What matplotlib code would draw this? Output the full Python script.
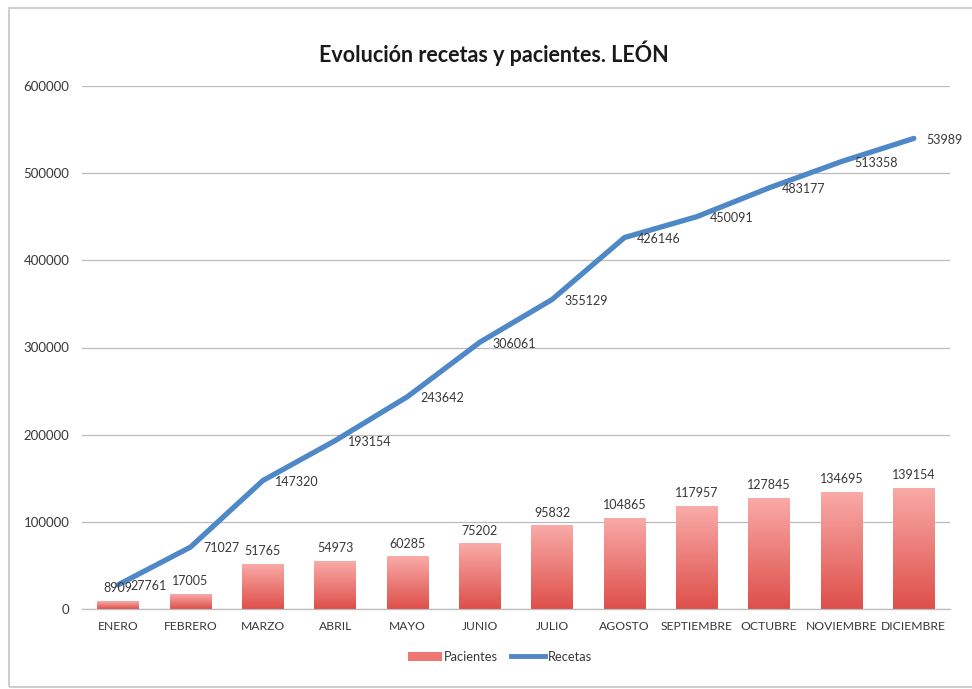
import matplotlib
matplotlib.use("Agg")
import matplotlib.pyplot as plt
import numpy as np
from matplotlib.patches import Rectangle, Patch
from matplotlib.lines import Line2D
from matplotlib.colors import LinearSegmentedColormap

plt.rcParams['font.family'] = ['Lato', 'DejaVu Sans']

meses = ["ENERO", "FEBRERO", "MARZO", "ABRIL", "MAYO", "JUNIO", "JULIO",
         "AGOSTO", "SEPTIEMBRE", "OCTUBRE", "NOVIEMBRE", "DICIEMBRE"]
pacientes = [8909, 17005, 51765, 54973, 60285, 75202, 95832,
             104865, 117957, 127845, 134695, 139154]
recetas = [27761, 71027, 147320, 193154, 243642, 306061, 355129,
           426146, 450091, 483177, 513358, 539890]
recetas_etiquetas = ["27761", "71027", "147320", "193154", "243642", "306061",
                     "355129", "426146", "450091", "483177", "513358", "53989"]
yticks = [0, 100000, 200000, 300000, 400000, 500000, 600000]

fig = plt.figure(figsize=(9.72, 6.89), dpi=100)
fig.patch.set_facecolor('white')

# screenshot frame
fig.patches.append(Rectangle((9/972, 2/689), 1.0, 679/689, transform=fig.transFigure,
                             fill=False, edgecolor='#cfcfcf', linewidth=1.5))

ax = fig.add_axes([82/972, 1-609/689, 868/972, (609-86)/689])
x = np.arange(len(meses))
bars = ax.bar(x, pacientes, width=0.58, color='none', edgecolor='none', zorder=2)

cmap = LinearSegmentedColormap.from_list('grad', ['#DE4F4A', '#F9ABA8'])
grad = np.linspace(0, 1, 256).reshape(-1, 1)
for b in bars:
    x0, y0, w, h = b.get_x(), b.get_y(), b.get_width(), b.get_height()
    im = ax.imshow(grad, cmap=cmap, aspect='auto', origin='lower',
                   extent=[x0, x0 + w, y0, y0 + h], zorder=2)
    im.set_clip_path(b)

ax.plot(x, recetas, color='#4F88C6', linewidth=3.8, solid_capstyle='round', zorder=3)

txtc = '#383838'
for xi, v in zip(x, pacientes):
    ax.annotate(str(v), (xi, v), xytext=(0, 5), textcoords='offset points',
                ha='center', va='bottom', fontsize=9, color=txtc, zorder=4)
for xi, v, t in zip(x, recetas, recetas_etiquetas):
    ax.annotate(t, (xi, v), xytext=(9, -1), textcoords='offset points',
                ha='left', va='center', fontsize=9, color=txtc, zorder=4)

ax.set_xlim(-0.5, len(meses) - 0.5)
ax.set_ylim(0, 600000)
ax.set_yticks(yticks)
ax.set_yticklabels([str(t) for t in yticks])
ax.set_xticks(x)
ax.set_xticklabels(meses)
ax.tick_params(axis='y', length=0, labelsize=9.5, labelcolor=txtc, pad=9)
ax.tick_params(axis='x', length=0, labelsize=8.7, labelcolor=txtc, pad=9)
ax.grid(axis='y', color='#bcbcbc', linewidth=0.9)
ax.set_axisbelow(True)
for s in ['top', 'right', 'left']:
    ax.spines[s].set_visible(False)
ax.spines['bottom'].set_color('#bcbcbc')
ax.spines['bottom'].set_linewidth(0.9)

fig.text(494/972, 1-53/689, "Evolución recetas y pacientes. LEÓN", ha='center', va='center',
         fontsize=15.5, fontweight='bold', color='#1a1a1a')

handles = [Patch(facecolor='#EE7773', edgecolor='none'),
           Line2D([0], [0], color='#4F88C6', linewidth=3.5)]
fig.legend(handles, ["Pacientes", "Recetas"], loc='center', bbox_to_anchor=(500/972, 1-657/689),
           ncol=2, frameon=False, fontsize=9.3, handlelength=2.6, handleheight=0.7,
           columnspacing=1.0, handletextpad=0.2, labelcolor=txtc)

fig.savefig("out.png", dpi=100, facecolor='white')
